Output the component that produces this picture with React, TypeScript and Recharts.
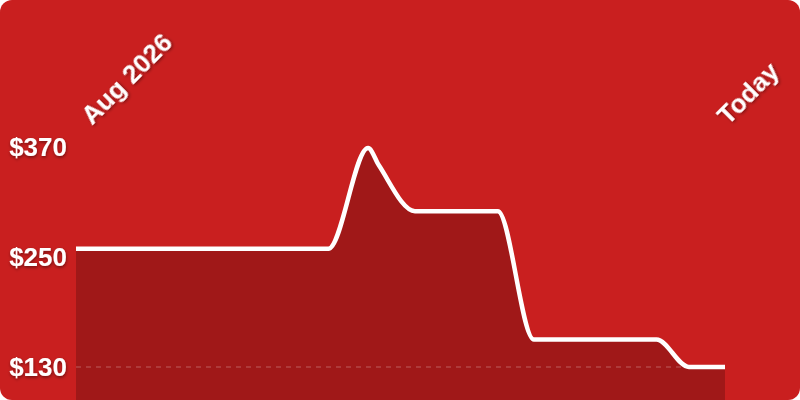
import { type ReactElement } from "react";
import {
  Area,
  AreaChart,
  ReferenceLine,
  XAxis,
  YAxis,
} from "recharts";

// Price history, days since Aug 2026 -> price in dollars.
const DAYS = [0, 70, 81, 84, 94, 117, 127, 161, 170, 180];
const PRICES = [259, 259, 369, 350, 300, 300, 160, 160, 130, 130];

const Y_TICKS = [130, 250, 370];
const Y_DOMAIN: [number, number] = [94, 406];

const X_TICKS = [0, 180];
const X_TICK_LABELS = ["Aug 2026", "Today"];
// nudges so the rotated labels sit where the original puts them
const X_TICK_NUDGE = [16, 3];

const BG = "#c91f1f";
const FONT = '"Liberation Sans", Arial, Helvetica, sans-serif';

const data = DAYS.map((day, i) => ({ day, price: PRICES[i] }));

function PriceTick(props: any): ReactElement {
  const { x, y, payload } = props;
  return (
    <text
      x={x}
      y={y}
      dy="0.355em"
      textAnchor="end"
      fill="#fff"
      fontFamily={FONT}
      fontWeight={700}
      fontSize={26}
      filter="url(#labelShadow)"
    >
      {`$${payload.value}`}
    </text>
  );
}

function DateTick(props: any): ReactElement {
  const { x, y, payload } = props;
  const idx = X_TICKS.indexOf(payload.value);
  const tx = x + (X_TICK_NUDGE[idx] ?? 0);
  const ty = y + 12;
  return (
    <text
      x={tx}
      y={ty}
      transform={`rotate(-45 ${tx} ${ty})`}
      textAnchor="start"
      fill="#fff"
      fontFamily={FONT}
      fontWeight={700}
      fontSize={26}
      filter="url(#labelShadow)"
    >
      {X_TICK_LABELS[idx] ?? ""}
    </text>
  );
}

export default function App(): ReactElement {
  return (
    <div
      style={{
        position: "fixed",
        left: 0,
        top: 0,
        width: 800,
        height: 400,
        background: BG,
        borderRadius: 12,
        overflow: "hidden",
      }}
    >
      <svg width={0} height={0} style={{ position: "absolute" }}>
        <defs>
          <filter id="labelShadow" x="-20%" y="-30%" width="140%" height="170%">
            <feDropShadow
              dx="0.5"
              dy="1.5"
              stdDeviation="1.5"
              floodColor="#000"
              floodOpacity="0.45"
            />
          </filter>
        </defs>
      </svg>
      <AreaChart
        width={800}
        height={400}
        data={data}
        margin={{ top: 0, right: 75, bottom: 0, left: 0 }}
      >
        <XAxis
          dataKey="day"
          type="number"
          orientation="top"
          domain={[0, 180]}
          ticks={X_TICKS}
          height={114}
          axisLine={false}
          tickLine={false}
          tickSize={0}
          tickMargin={0}
          tick={<DateTick />}
          interval={0}
        />
        <YAxis
          domain={Y_DOMAIN}
          ticks={Y_TICKS}
          width={76}
          axisLine={false}
          tickLine={false}
          tickSize={0}
          tickMargin={9}
          tick={<PriceTick />}
          interval={0}
        />
        <ReferenceLine
          y={130}
          stroke="rgba(255,255,255,0.2)"
          strokeWidth={1.5}
          strokeDasharray="5 5"
        />
        <Area
          type="monotone"
          dataKey="price"
          stroke="#fff"
          strokeWidth={4.5}
          fill="#000"
          fillOpacity={0.2}
          dot={false}
          activeDot={false}
          isAnimationActive={false}
        />
      </AreaChart>
    </div>
  );
}
